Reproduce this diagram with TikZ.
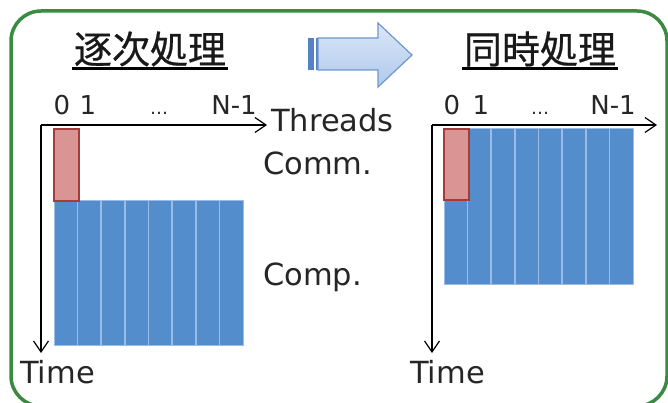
\documentclass[tikz,border=0pt]{standalone}
\usepackage{fontspec}
\setmainfont{DejaVu Sans}
\newfontfamily\cjk[FakeBold=0.6]{Noto Sans CJK JP}
\usetikzlibrary{arrows.meta}
\definecolor{framegreen}{RGB}{58,138,66}
\definecolor{compblue}{RGB}{83,141,204}
\definecolor{compline}{RGB}{155,188,228}
\definecolor{commfill}{RGB}{217,148,148}
\definecolor{commdraw}{RGB}{165,60,60}
\definecolor{arrowdraw}{RGB}{110,150,205}
\definecolor{arrowdark}{RGB}{85,130,195}
\definecolor{arrowtop}{RGB}{218,231,247}
\definecolor{arrowbot}{RGB}{176,201,236}
\tikzset{
  lbl/.style={inner sep=0pt, anchor=base west, font=\fontsize{30.5}{36}\selectfont, text=black!85},
  idx/.style={inner sep=0pt, anchor=base, font=\fontsize{26}{30}\selectfont, text=black!85},
  dots/.style={inner sep=0pt, anchor=base, font=\fontsize{18}{22}\selectfont, text=black!85},
  ttl/.style={inner sep=0pt, anchor=center, font=\cjk\fontsize{38}{42}\selectfont, text=black!90},
  axis/.style={line width=1.4pt, -{Straight Barb[length=11pt,width=15pt,line width=1.2pt]}},
  commbox/.style={fill=commfill, draw=commdraw, line width=1.8pt},
  compbox/.style={fill=compblue, draw=compline, line width=1pt},
  sep/.style={draw=compline, line width=1.6pt},
}
\begin{document}
\begin{tikzpicture}[x=1pt,y=-1pt]
\useasboundingbox (0,0) rectangle (668,403);
% frame
\draw[framegreen, line width=3.5pt, rounded corners=30pt] (11,11) rectangle (667,406);

% titles
\node[ttl] (t1) at (150,49) {逐次処理};
\node[ttl] (t2) at (540,49) {同時処理};
\draw[line width=3pt] (72,69) -- (228,69);
\draw[line width=3pt] (462,69) -- (618,69);

% big arrow
\fill[arrowdark] (308,38) rectangle (313.5,70);
\fill[arrowdark] (316,38) rectangle (318.5,70);
\draw[arrowdraw, line width=1.2pt, top color=arrowtop, bottom color=arrowbot]
  (318,38) -- (378,38) -- (378,23) -- (412,55) -- (378,87) -- (378,70) -- (318,70) -- cycle;

% ---------- left panel ----------
\fill[compblue] (54,201) rectangle (243,345);
\foreach \i in {1,...,7} { \draw[sep] (54+23.625*\i,201) -- (54+23.625*\i,345); }
\draw[compline, line width=1pt] (54,201) rectangle (243,345);
\draw[commbox] (54,129) rectangle (79,201);

\coordinate (o1) at (41,125);
\coordinate (x1) at (267,125);
\coordinate (y1) at (41,353);
\draw[axis] (o1) -- (x1);
\draw[axis] (o1) -- (y1);

\node[idx] (l0) at (62,115) {0};
\node[idx] (l1) at (88,115) {1};
\node[dots] (ld) at (159,115) {…};
\node[idx] (ln) at (234,115) {N-1};

\node[lbl] (thr) at (271,132) {Threads};
\node[lbl] (comm) at (263,175) {Comm.};
\node[lbl] (comp) at (263,285) {Comp.};
\node[lbl] (time1) at (20,383) {Time};

% ---------- right panel ----------
\fill[compblue] (444,129) rectangle (633,284);
\foreach \i in {1,...,7} { \draw[sep] (444+23.625*\i,129) -- (444+23.625*\i,284); }
\draw[compline, line width=1pt] (444,129) rectangle (633,284);
\draw[commbox] (444,129) rectangle (469,200);

\coordinate (o2) at (432,125);
\coordinate (x2) at (657,125);
\coordinate (y2) at (432,353);
\draw[axis] (o2) -- (x2);
\draw[axis] (o2) -- (y2);

\node[idx] (r0) at (452,115) {0};
\node[idx] (r1) at (481,115) {1};
\node[dots] (rd) at (540,115) {…};
\node[idx] (rn) at (613,115) {N-1};

\node[lbl] (time2) at (410,383) {Time};
\end{tikzpicture}
\end{document}
